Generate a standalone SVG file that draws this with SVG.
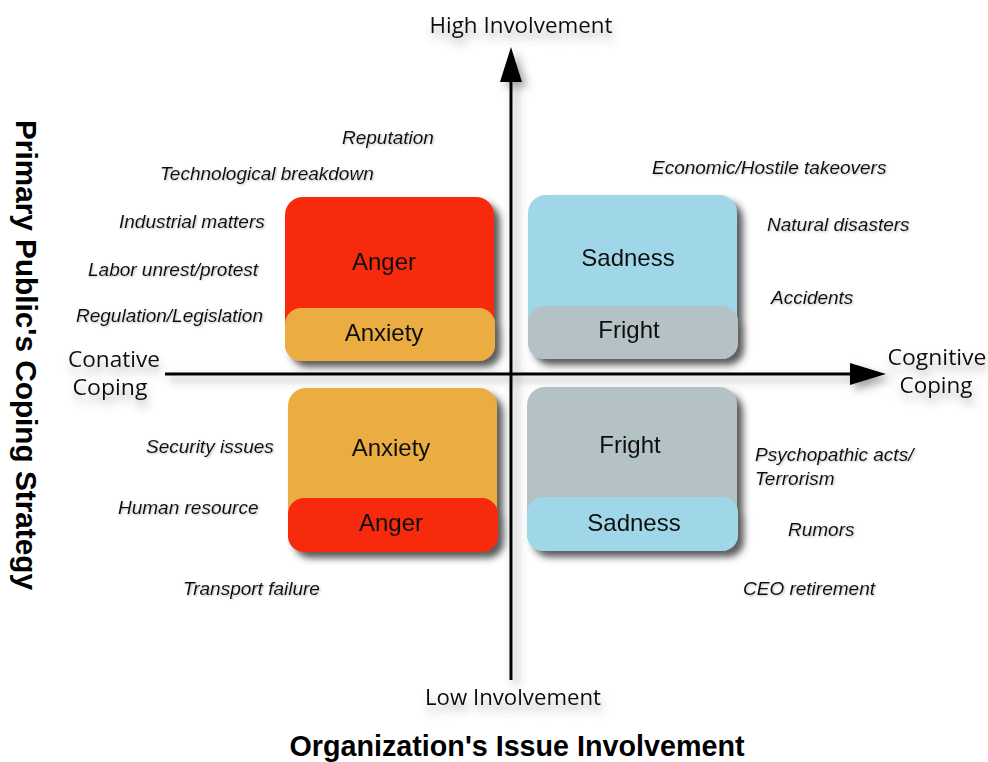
<svg xmlns="http://www.w3.org/2000/svg" width="988" height="762" viewBox="0 0 988 762">
  <defs>
    <filter id="boxShadow" x="-10%" y="-10%" width="130%" height="130%">
      <feDropShadow dx="6" dy="6" stdDeviation="3.5" flood-color="#333" flood-opacity="0.8"/>
    </filter>
    <filter id="softShadow" x="-20%" y="-40%" width="140%" height="200%">
      <feDropShadow dx="2" dy="7" stdDeviation="4" flood-color="#555" flood-opacity="0.45"/>
    </filter>
    <filter id="lineShadow" x="-10%" y="-10%" width="120%" height="120%">
      <feDropShadow dx="5" dy="5" stdDeviation="4" flood-color="#444" flood-opacity="0.5"/>
    </filter>
    <filter id="textHaze" x="-5%" y="-30%" width="110%" height="160%">
      <feDropShadow dx="1" dy="1" stdDeviation="1" flood-color="#777" flood-opacity="0.5"/>
    </filter>
  </defs>
  <style>
    .box-label { font-family: "Liberation Sans", Arial, sans-serif; font-size: 24px; fill: #111; text-anchor: middle; }
    .issue { font-family: "Liberation Sans", Arial, sans-serif; font-size: 19px; font-style: italic; fill: #111; }
    .axis-end { font-family: "Open Sans", "Noto Sans", sans-serif; font-size: 21px; fill: #111; text-anchor: middle; }
    .title { font-family: "Liberation Sans", Arial, sans-serif; font-size: 29px; font-weight: bold; fill: #000; text-anchor: middle; }
    .red { fill: #F8290F; }
    .amber { fill: #EBAC42; }
    .blue { fill: #9FD7E8; }
    .grey { fill: #B4C2C6; }
  </style>

  <rect width="988" height="762" fill="#ffffff"/>

  <!-- axes -->
  <g id="connectors" filter="url(#lineShadow)">
    <line x1="511" y1="78" x2="511" y2="680" stroke="#000" stroke-width="3"/>
    <polygon points="511,47 522,82 500,82" fill="#000"/>
    <line x1="165" y1="374" x2="852" y2="374" stroke="#000" stroke-width="3"/>
    <polygon points="886,374 850,363 850,385" fill="#000"/>
  </g>

  <!-- quadrant boxes -->
  <g id="box-top-left" filter="url(#boxShadow)">
    <rect x="285" y="197" width="209" height="164" rx="18" class="red"/>
    <rect x="285" y="308" width="210" height="53" rx="16" class="amber"/>
    <text x="384" y="270" class="box-label">Anger</text>
    <text x="384" y="341" class="box-label">Anxiety</text>
  </g>
  <g id="box-top-right" filter="url(#boxShadow)">
    <rect x="528" y="195" width="209" height="164" rx="18" class="blue"/>
    <rect x="528" y="306" width="210" height="53" rx="16" class="grey"/>
    <text x="628" y="266" class="box-label">Sadness</text>
    <text x="629" y="338" class="box-label">Fright</text>
  </g>
  <g id="box-bottom-left" filter="url(#boxShadow)">
    <rect x="288" y="388" width="209" height="164" rx="18" class="amber"/>
    <rect x="288" y="498" width="210" height="54" rx="16" class="red"/>
    <text x="391" y="456" class="box-label">Anxiety</text>
    <text x="391" y="531" class="box-label">Anger</text>
  </g>
  <g id="box-bottom-right" filter="url(#boxShadow)">
    <rect x="527" y="387" width="210" height="164" rx="18" class="grey"/>
    <rect x="527" y="497" width="211" height="54" rx="16" class="blue"/>
    <text x="630" y="453" class="box-label">Fright</text>
    <text x="634" y="531" class="box-label">Sadness</text>
  </g>

  <!-- issue labels -->
  <g id="issues" filter="url(#textHaze)">
    <text x="342" y="144" class="issue">Reputation</text>
    <text x="160" y="180" class="issue">Technological breakdown</text>
    <text x="119" y="228" class="issue">Industrial matters</text>
    <text x="88" y="276" class="issue">Labor unrest/protest</text>
    <text x="76" y="322" class="issue">Regulation/Legislation</text>
    <text x="652" y="174" class="issue">Economic/Hostile takeovers</text>
    <text x="767" y="231" class="issue">Natural disasters</text>
    <text x="771" y="304" class="issue">Accidents</text>
    <text x="146" y="453" class="issue">Security issues</text>
    <text x="118" y="514" class="issue">Human resource</text>
    <text x="183" y="595" class="issue">Transport failure</text>
    <text x="755" y="461" class="issue">Psychopathic acts/</text>
    <text x="755" y="485" class="issue">Terrorism</text>
    <text x="788" y="536" class="issue">Rumors</text>
    <text x="743" y="595" class="issue">CEO retirement</text>
  </g>

  <!-- axis end labels -->
  <g id="axis-labels" filter="url(#softShadow)">
    <text x="521" y="33" class="axis-end" textLength="183" lengthAdjust="spacingAndGlyphs">High Involvement</text>
    <text x="513" y="705" class="axis-end" textLength="176" lengthAdjust="spacingAndGlyphs">Low Involvement</text>
    <text x="114" y="367" class="axis-end" textLength="92" lengthAdjust="spacingAndGlyphs">Conative</text>
    <text x="110" y="395" class="axis-end" textLength="75" lengthAdjust="spacingAndGlyphs">Coping</text>
    <text x="937" y="365" class="axis-end" textLength="99" lengthAdjust="spacingAndGlyphs">Cognitive</text>
    <text x="936" y="393" class="axis-end" textLength="73" lengthAdjust="spacingAndGlyphs">Coping</text>
  </g>

  <!-- axis titles -->
  <g id="titles">
    <text x="517" y="756" class="title" textLength="455" lengthAdjust="spacingAndGlyphs">Organization's Issue Involvement</text>
    <text transform="translate(16,355) rotate(90)" class="title" textLength="470" lengthAdjust="spacingAndGlyphs">Primary Public's Coping Strategy</text>
  </g>
</svg>
